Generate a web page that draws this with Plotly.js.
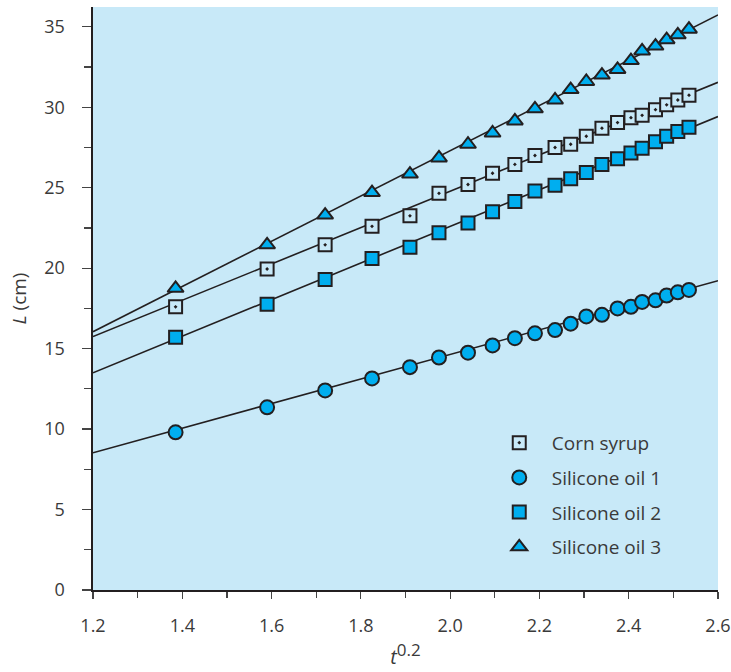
<!DOCTYPE html>
<html>
<head>
<meta charset="utf-8">
<script src="https://cdn.plot.ly/plotly-3.0.1.min.js"></script>
<style>html,body{margin:0;padding:0;background:#fff;}#chart{width:731px;height:672px;}</style>
</head>
<body>
<div id="chart"></div>
<script>
// t^0.2 positions
var xVals = [1.385, 1.59, 1.72, 1.825, 1.91, 1.975, 2.04, 2.095, 2.145, 2.19, 2.235,
             2.27, 2.305, 2.34, 2.375, 2.405, 2.43, 2.46, 2.485, 2.51, 2.535];
var cornSyrup = [17.6, 19.95, 21.45, 22.6, 23.25, 24.65, 25.2, 25.9, 26.45, 27.0, 27.5,
                 27.7, 28.2, 28.7, 29.05, 29.35, 29.5, 29.85, 30.15, 30.45, 30.75];
var oil1 = [9.8, 11.35, 12.4, 13.15, 13.85, 14.45, 14.75, 15.2, 15.65, 15.95, 16.15,
            16.55, 17.0, 17.1, 17.5, 17.6, 17.9, 18.0, 18.3, 18.5, 18.65];
var oil2 = [15.7, 17.75, 19.3, 20.6, 21.3, 22.2, 22.8, 23.5, 24.15, 24.8, 25.15,
            25.55, 25.95, 26.45, 26.8, 27.15, 27.45, 27.85, 28.2, 28.5, 28.75];
var oil3 = [18.75, 21.45, 23.3, 24.7, 25.85, 26.85, 27.7, 28.4, 29.15, 29.9, 30.45,
            31.1, 31.6, 32.0, 32.35, 32.9, 33.5, 33.8, 34.2, 34.5, 34.85];
// fitted lines, end values read at the axis limits
var fitX = [1.2, 2.6];
var fitCorn = [15.75, 31.55];
var fitOil1 = [8.53, 19.22];
var fitOil2 = [13.5, 29.42];
var fitOil3 = [16.05, 35.74];
var xTicks = [1.2, 1.4, 1.6, 1.8, 2.0, 2.2, 2.4, 2.6];
var xTickText = ['1.2', '1.4', '1.6', '1.8', '2.0', '2.2', '2.4', '2.6'];
var yTicks = [0, 5, 10, 15, 20, 25, 30, 35];

var dark = '#231F20';
var cyan = '#00AEEF';
var bg = '#C8E9F8';
var txt = '#3a3a3a';

function fit(y) {
  return {x: fitX, y: y, mode: 'lines', line: {color: dark, width: 1.6},
          showlegend: false, hoverinfo: 'skip'};
}
var mk = function (sym, fill, size) {
  return {symbol: sym, color: fill, size: size, line: {color: dark, width: 2}};
};
var traces = [
  fit(fitCorn), fit(fitOil1), fit(fitOil2), fit(fitOil3),
  {x: xVals, y: cornSyrup, mode: 'markers', name: 'Corn syrup', legendgroup: 'a',
   marker: mk('square-dot', bg, 13)},
  {x: xVals, y: oil1, mode: 'markers', name: 'Silicone oil 1', legendgroup: 'b',
   marker: mk('circle', cyan, 14)},
  {x: xVals, y: oil2, mode: 'markers', name: 'Silicone oil 2', legendgroup: 'c',
   marker: mk('square', cyan, 13)},
  {x: xVals, y: oil3, mode: 'markers', name: 'Silicone oil 3', legendgroup: 'd',
   marker: mk('triangle-up', cyan, 14)}
];

var font = 'Open Sans, Noto Sans, sans-serif';
var layout = {
  width: 731, height: 672,
  margin: {l: 93, r: 13, t: 7, b: 82},
  paper_bgcolor: '#ffffff',
  plot_bgcolor: bg,
  font: {family: font, size: 18, color: txt},
  showlegend: true,
  legend: {x: 0.63, y: 0.285, xanchor: 'left', yanchor: 'top',
           bgcolor: 'rgba(0,0,0,0)', font: {family: font, size: 19, color: txt},
           traceorder: 'grouped', tracegroupgap: 7, itemwidth: 55},
  xaxis: {range: [1.2, 2.6], tickvals: xTicks, ticktext: xTickText,
          showgrid: false, zeroline: false, showline: true, linecolor: dark, linewidth: 1.6,
          ticks: 'outside', ticklen: 7, tickwidth: 1.2, tickcolor: '#444',
          ticklabelstandoff: 12,
          minor: {dtick: 0.1, tick0: 1.2, ticks: 'outside', ticklen: 6, tickwidth: 1.2, tickcolor: '#444', showgrid: false},
          tickfont: {size: 18, color: txt},
          title: {text: '<i>t</i><sup><span style="font-size:17px">0.2</span></sup>', font: {size: 20, color: txt}, standoff: 14}},
  yaxis: {range: [0, 36.23], tickvals: yTicks,
          showgrid: false, zeroline: false, showline: true, linecolor: dark, linewidth: 1.6,
          ticks: 'outside', ticklen: 9, tickwidth: 1.2, tickcolor: '#444',
          ticklabelstandoff: 14,
          minor: {dtick: 2.5, tick0: 0, ticks: 'outside', ticklen: 7, tickwidth: 1.2, tickcolor: '#444', showgrid: false},
          tickfont: {size: 18, color: txt},
          title: {text: '<i>L</i> (cm)', font: {size: 19, color: txt}, standoff: 12}}
};
Plotly.newPlot('chart', traces, layout, {displayModeBar: false, staticPlot: true});
</script>
</body>
</html>
